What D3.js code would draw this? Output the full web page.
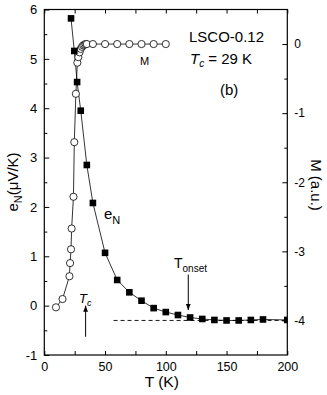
<!DOCTYPE html>
<html>
<head>
<meta charset="utf-8">
<script src="https://cdn.jsdelivr.net/npm/d3@7"></script>
<style>
  body { margin: 0; background: #fff; }
  text { font-family: "Liberation Sans", Arial, sans-serif; fill: #000; }
  .axis path, .axis line { stroke: #000; stroke-width: 1; }
  .axis text { font-family: "Liberation Sans", Arial, sans-serif; }
</style>
</head>
<body>
<script>
var w = 327;
var h = 395;
var margin = {top: 9.5, right: 39.7, bottom: 40, left: 44.3};

// Nernst signal e_N (left axis)
var eT = [22, 24.7, 27, 30, 35, 40, 50, 60, 70, 80, 90, 100, 110, 120, 130, 140, 150, 160, 170, 180, 200];
var eN = [5.82, 5.16, 4.53, 3.95, 2.85, 2.08, 1.07, 0.52, 0.27, 0.10, -0.05, -0.13, -0.19, -0.24, -0.27, -0.29, -0.30, -0.30, -0.29, -0.28, -0.29];

// magnetization M (right axis)
var mT = [9.6, 15, 20.7, 21.2, 22, 22.5, 24, 24.7, 26, 27.2, 28, 29, 30, 31, 32, 33, 34, 35, 40, 50, 60, 70, 80, 90, 100];
var mM = [-3.81, -3.69, -3.36, -3.17, -2.97, -2.67, -2.21, -1.42, -0.72, -0.27, -0.19, -0.12, -0.07, -0.04, -0.02, -0.01, 0, 0, 0, 0, 0, 0, 0, 0, 0];

var xTicks = [0, 50, 100, 150, 200];
var xMinor = [25, 75, 125, 175];
var yTicks = [-1, 0, 1, 2, 3, 4, 5, 6];
var yMinor = [-0.5, 0.5, 1.5, 2.5, 3.5, 4.5, 5.5];
var mTicks = [0, -1, -2, -3, -4];
var mMinor = [-0.5, -1.5, -2.5, -3.5];

var eData = eT.map(function(t, i) { return {t: t, v: eN[i]}; });
var mData = mT.map(function(t, i) { return {t: t, v: mM[i]}; });

var xScale = d3.scaleLinear().domain([0, 200]).range([margin.left, w - margin.right]);
var yScale = d3.scaleLinear().domain([-1, 6]).range([h - margin.bottom, margin.top]);
var mScale = d3.scaleLinear().domain([-4.5, 0.5]).range([h - margin.bottom, margin.top]);

// plain hyphen minus, like the original
var plain = function(d) { return String(d); };

var svg = d3.select("body").append("svg").attr("width", w).attr("height", h);

var defs = svg.append("defs");
defs.append("clipPath").attr("id", "clip")
   .append("rect")
   .attr("x", margin.left).attr("y", margin.top)
   .attr("width", w - margin.left - margin.right)
   .attr("height", h - margin.top - margin.bottom);

defs.append("marker")
    .attr("id", "arrow")
    .attr("viewBox", "0 0 10 10")
    .attr("refX", 10).attr("refY", 5)
    .attr("markerWidth", 6).attr("markerHeight", 6)
    .attr("orient", "auto")
    .append("path")
    .attr("d", "M0,1 L10,5 L0,9 Z")
    .attr("fill", "#000");

var plot = svg.append("g").attr("clip-path", "url(#clip)");

// dashed reference at M = -4
plot.append("line")
    .attr("x1", xScale(57)).attr("x2", xScale(200))
    .attr("y1", mScale(-4)).attr("y2", mScale(-4))
    .attr("stroke", "#000").attr("stroke-width", 0.9)
    .attr("stroke-dasharray", "4,3");

var eLine = d3.line()
              .x(function(d) { return xScale(d.t); })
              .y(function(d) { return yScale(d.v); });

var mLine = d3.line()
              .x(function(d) { return xScale(d.t); })
              .y(function(d) { return mScale(d.v); });

plot.append("path").datum(mData).attr("d", mLine)
    .attr("fill", "none").attr("stroke", "#000").attr("stroke-width", 0.8);

plot.append("path").datum(eData).attr("d", eLine)
    .attr("fill", "none").attr("stroke", "#000").attr("stroke-width", 0.8);

plot.selectAll("circle.m")
    .data(mData)
    .enter()
    .append("circle")
    .attr("class", "m")
    .attr("cx", function(d) { return xScale(d.t); })
    .attr("cy", function(d) { return mScale(d.v); })
    .attr("r", 3.6)
    .attr("fill", "#fff").attr("stroke", "#000").attr("stroke-width", 0.8);

plot.selectAll("rect.e")
    .data(eData)
    .enter()
    .append("rect")
    .attr("class", "e")
    .attr("x", function(d) { return xScale(d.t) - 3.3; })
    .attr("y", function(d) { return yScale(d.v) - 3.3; })
    .attr("width", 6.6).attr("height", 6.6)
    .attr("fill", "#000");

// axes
function addAxis(axis, transform, fontSize) {
  var g = svg.append("g").attr("class", "axis")
             .attr("transform", transform)
             .call(axis);
  g.select(".domain").remove();
  g.selectAll("text").style("font-size", fontSize + "px");
  return g;
}

addAxis(d3.axisLeft(yScale).tickValues(yTicks).tickSize(-5).tickPadding(7)
        .tickFormat(plain), "translate(" + margin.left + ",0)", 13);
addAxis(d3.axisLeft(yScale).tickValues(yMinor).tickSize(-3).tickFormat(""),
        "translate(" + margin.left + ",0)", 13);

addAxis(d3.axisBottom(xScale).tickValues(xTicks).tickSize(-4).tickPadding(7)
        .tickFormat(plain), "translate(0," + (h - margin.bottom) + ")", 12.5);
addAxis(d3.axisBottom(xScale).tickValues(xMinor).tickSize(-4).tickFormat(""),
        "translate(0," + (h - margin.bottom) + ")", 12);

addAxis(d3.axisTop(xScale).tickValues(xTicks.concat(xMinor)).tickSize(-4).tickFormat(""),
        "translate(0," + margin.top + ")", 12);

addAxis(d3.axisRight(mScale).tickValues(mTicks).tickSize(-5).tickPadding(7)
        .tickFormat(plain), "translate(" + (w - margin.right) + ",0)", 12);
addAxis(d3.axisRight(mScale).tickValues(mMinor).tickSize(-3).tickFormat(""),
        "translate(" + (w - margin.right) + ",0)", 12);

// frame
svg.append("rect")
   .attr("x", margin.left).attr("y", margin.top)
   .attr("width", w - margin.left - margin.right)
   .attr("height", h - margin.top - margin.bottom)
   .attr("fill", "none").attr("stroke", "#000").attr("stroke-width", 1.2);

// axis titles
svg.append("text")
   .attr("x", (margin.left + w - margin.right) / 2 - 4)
   .attr("y", 387)
   .attr("text-anchor", "middle")
   .style("font-size", "15.5px")
   .text("T (K)");

var yt = svg.append("text")
   .attr("transform", "translate(18,182) rotate(-90)")
   .attr("text-anchor", "middle")
   .style("font-size", "15px");
yt.append("tspan").text("e");
yt.append("tspan").attr("dy", 4).style("font-size", "11px").text("N");
yt.append("tspan").attr("dy", -4).text("(\u03bcV/K)");

svg.append("text")
   .attr("transform", "translate(311,185) rotate(90)")
   .attr("text-anchor", "middle")
   .style("font-size", "15px")
   .text("M (a.u.)");

// annotations
svg.append("text").attr("x", 189).attr("y", 42)
   .style("font-size", "15px").text("LSCO-0.12");

var tc = svg.append("text").attr("x", 190).attr("y", 64).style("font-size", "15px");
tc.append("tspan").style("font-style", "italic").text("T");
tc.append("tspan").attr("dy", 3).style("font-style", "italic").style("font-size", "10px").text("c");
tc.append("tspan").attr("dy", -3).text(" = 29 K");

svg.append("text").attr("x", 220).attr("y", 95)
   .style("font-size", "15px").text("(b)");

svg.append("text").attr("x", 140).attr("y", 65)
   .style("font-size", "11px").text("M");

var en = svg.append("text").attr("x", 104).attr("y", 219).style("font-size", "15px");
en.append("tspan").text("e");
en.append("tspan").attr("dy", 5).style("font-size", "11px").text("N");

var ton = svg.append("text").attr("x", 174).attr("y", 268).style("font-size", "14px");
ton.append("tspan").text("T");
ton.append("tspan").attr("dy", 4).style("font-size", "10px").text("onset");

svg.append("line")
   .attr("x1", xScale(118.5)).attr("x2", xScale(118.5))
   .attr("y1", yScale(0.63)).attr("y2", yScale(-0.09))
   .attr("stroke", "#000").attr("stroke-width", 1)
   .attr("marker-end", "url(#arrow)");

var tcl = svg.append("text").attr("x", 79).attr("y", 303).style("font-size", "13px");
tcl.append("tspan").style("font-style", "italic").text("T");
tcl.append("tspan").attr("dy", 3).style("font-style", "italic").style("font-size", "9px").text("c");

svg.append("line")
   .attr("x1", xScale(34)).attr("x2", xScale(34))
   .attr("y1", yScale(-0.63)).attr("y2", yScale(0.0))
   .attr("stroke", "#000").attr("stroke-width", 1)
   .attr("marker-end", "url(#arrow)");
</script>
</body>
</html>
